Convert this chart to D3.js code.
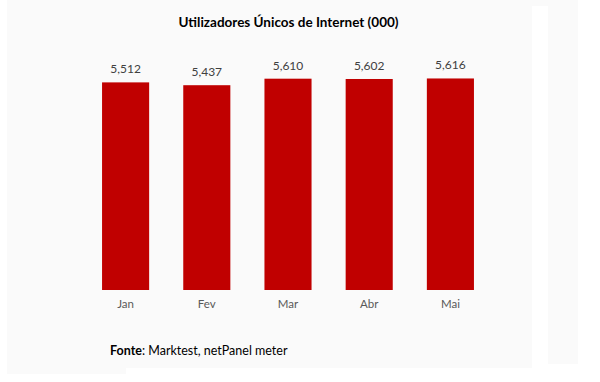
<!DOCTYPE html>
<html>
<head>
<meta charset="utf-8">
<script src="https://cdn.jsdelivr.net/npm/d3@7"></script>
<style>
  html, body { margin: 0; padding: 0; background: #ffffff; }
  svg { display: block; }
</style>
</head>
<body>
<script>
const categories = ["Jan", "Fev", "Mar", "Abr", "Mai"];
const values = [5512, 5437, 5610, 5602, 5616];
const valueLabels = ["5,512", "5,437", "5,610", "5,602", "5,616"];
const titleText = "Utilizadores Únicos de Internet (000)";
const sourceBold = "Fonte";
const sourceRest = ": Marktest, netPanel meter";

const W = 600, H = 382;
const svg = d3.select("body").append("svg").attr("width", W).attr("height", H);

// background panels
const bg = "#fafafa";
svg.append("rect").attr("x", 7).attr("y", 0).attr("width", 571).attr("height", 6).attr("fill", bg);
svg.append("rect").attr("x", 7).attr("y", 0).attr("width", 525).attr("height", 368).attr("fill", bg);
svg.append("rect").attr("x", 7).attr("y", 360).attr("width", 119).attr("height", 14).attr("fill", bg);
svg.append("rect").attr("x", 548).attr("y", 0).attr("width", 30).attr("height", 364).attr("fill", bg);

const x = d3.scaleBand().domain(categories).range([85, 491]).paddingInner(0.42).paddingOuter(0.21);
const y = d3.scaleLinear().domain([0, 6000]).range([290, 64]);

const font = "Lato, 'Open Sans', sans-serif";

svg.append("text")
  .attr("x", 288.5).attr("y", 27)
  .attr("text-anchor", "middle")
  .attr("font-family", font).attr("font-weight", "bold").attr("font-size", 13.5)
  .attr("fill", "#000")
  .text(titleText);

svg.selectAll("rect.bar").data(values).enter().append("rect")
  .attr("class", "bar")
  .attr("x", (d, i) => x(categories[i]))
  .attr("y", d => y(d))
  .attr("width", x.bandwidth())
  .attr("height", d => y(0) - y(d))
  .attr("fill", "#c00000");

svg.selectAll("text.val").data(values).enter().append("text")
  .attr("class", "val")
  .attr("x", (d, i) => x(categories[i]) + x.bandwidth() / 2)
  .attr("y", d => y(d) - 9)
  .attr("text-anchor", "middle")
  .attr("font-family", font).attr("font-size", 12)
  .attr("fill", "#404040")
  .text((d, i) => valueLabels[i]);

const xAxis = d3.axisBottom(x).tickSize(0).tickPadding(10);
const gx = svg.append("g").attr("transform", `translate(0,${y(0)})`).call(xAxis);
gx.select(".domain").remove();
gx.selectAll("text").attr("font-family", font).attr("font-size", 11.5).attr("fill", "#595959");

const src = svg.append("text")
  .attr("x", 110).attr("y", 355)
  .attr("font-family", font).attr("font-size", 12.5).attr("fill", "#000");
src.append("tspan").attr("font-weight", "bold").text(sourceBold);
src.append("tspan").text(sourceRest);
</script>
</body>
</html>
